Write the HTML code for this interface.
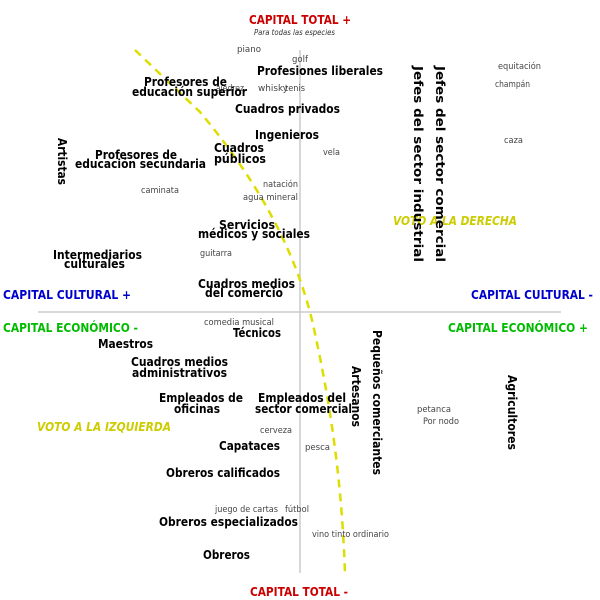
<!DOCTYPE html>
<html><head><meta charset="utf-8"><style>
html,body{margin:0;padding:0;background:#fff;}
svg{display:block;}
text{font-family:"DejaVu Sans","Liberation Sans",sans-serif;}
.b{font-weight:bold;font-size:12px;fill:#000;}
.s{font-size:8.5px;fill:#444;}
.r{font-weight:bold;font-size:12px;fill:#cc0000;}
.bl{font-weight:bold;font-size:12px;fill:#0000cc;}
.g{font-weight:bold;font-size:12px;fill:#00bb00;}
.y{font-weight:bold;font-style:italic;font-size:12px;fill:#cccc00;}
</style></head><body>
<svg width="600" height="600" viewBox="0 0 600 600" xmlns="http://www.w3.org/2000/svg">
<line x1="300" y1="50" x2="300" y2="573" stroke="#ccc" stroke-width="1.5"/>
<line x1="38" y1="312" x2="561" y2="312" stroke="#ccc" stroke-width="1.5"/>
<path d="M135,50 L200,112 C240,160 290,230 312,320 C330,400 342,480 345,575" fill="none" stroke="#dddd00" stroke-width="2.5" stroke-dasharray="8,6"/>

<text class="r" x="249" y="24" textLength="102" lengthAdjust="spacingAndGlyphs">CAPITAL TOTAL +</text>
<text x="254" y="35" font-size="8" font-style="italic" fill="#333" textLength="81" lengthAdjust="spacingAndGlyphs">Para todas las especies</text>
<text class="r" x="250" y="596" textLength="98" lengthAdjust="spacingAndGlyphs">CAPITAL TOTAL -</text>
<text class="bl" x="3" y="299" textLength="128" lengthAdjust="spacingAndGlyphs">CAPITAL CULTURAL +</text>
<text class="bl" x="471" y="299" textLength="122" lengthAdjust="spacingAndGlyphs">CAPITAL CULTURAL -</text>
<text class="g" x="3" y="332" textLength="135" lengthAdjust="spacingAndGlyphs">CAPITAL ECONÓMICO -</text>
<text class="g" x="448" y="332" textLength="140" lengthAdjust="spacingAndGlyphs">CAPITAL ECONÓMICO +</text>
<text class="y" x="393" y="225" textLength="124" lengthAdjust="spacingAndGlyphs">VOTO A LA DERECHA</text>
<text class="y" x="37" y="431" textLength="134" lengthAdjust="spacingAndGlyphs">VOTO A LA IZQUIERDA</text>

<g class="s">
<text class="s" x="237" y="52" textLength="24" lengthAdjust="spacingAndGlyphs">piano</text>
<text class="s" x="292" y="62" textLength="16" lengthAdjust="spacingAndGlyphs">golf</text>
<text class="s" x="498" y="69" textLength="43" lengthAdjust="spacingAndGlyphs">equitación</text>
<text class="s" x="216" y="91" textLength="28" lengthAdjust="spacingAndGlyphs">ajedrez</text>
<text class="s" x="258" y="91" textLength="30" lengthAdjust="spacingAndGlyphs">whisky</text>
<text class="s" x="285" y="91" textLength="20" lengthAdjust="spacingAndGlyphs">tenis</text>
<text class="s" x="495" y="87" textLength="35" lengthAdjust="spacingAndGlyphs">champán</text>
<text class="s" x="323" y="155" textLength="17" lengthAdjust="spacingAndGlyphs">vela</text>
<text class="s" x="504" y="143" textLength="19" lengthAdjust="spacingAndGlyphs">caza</text>
<text class="s" x="141" y="193" textLength="38" lengthAdjust="spacingAndGlyphs">caminata</text>
<text class="s" x="263" y="187" textLength="35" lengthAdjust="spacingAndGlyphs">natación</text>
<text class="s" x="243" y="200" textLength="55" lengthAdjust="spacingAndGlyphs">agua mineral</text>
<text class="s" x="200" y="256" textLength="32" lengthAdjust="spacingAndGlyphs">guitarra</text>
<text class="s" x="204" y="325" textLength="70" lengthAdjust="spacingAndGlyphs">comedia musical</text>
<text class="s" x="417" y="412" textLength="34" lengthAdjust="spacingAndGlyphs">petanca</text>
<text class="s" x="423" y="424" textLength="36" lengthAdjust="spacingAndGlyphs">Por nodo</text>
<text class="s" x="260" y="433" textLength="32" lengthAdjust="spacingAndGlyphs">cerveza</text>
<text class="s" x="305" y="450" textLength="25" lengthAdjust="spacingAndGlyphs">pesca</text>
<text class="s" x="215" y="512" textLength="63" lengthAdjust="spacingAndGlyphs">juego de cartas</text>
<text class="s" x="285" y="512" textLength="24" lengthAdjust="spacingAndGlyphs">fútbol</text>
<text class="s" x="312" y="537" textLength="77" lengthAdjust="spacingAndGlyphs">vino tinto ordinario</text>
</g>

<text class="b" x="257" y="75" textLength="126" lengthAdjust="spacingAndGlyphs">Profesiones liberales</text>
<text class="b" x="144" y="86" textLength="83" lengthAdjust="spacingAndGlyphs">Profesores de</text>
<text class="b" x="132" y="96" textLength="115" lengthAdjust="spacingAndGlyphs">educación superior</text>
<text class="b" x="235" y="113" textLength="105" lengthAdjust="spacingAndGlyphs">Cuadros privados</text>
<text class="b" x="255" y="139" textLength="64" lengthAdjust="spacingAndGlyphs">Ingenieros</text>
<text class="b" x="214" y="152" textLength="50" lengthAdjust="spacingAndGlyphs">Cuadros</text>
<text class="b" x="214" y="163" textLength="52" lengthAdjust="spacingAndGlyphs">públicos</text>
<text class="b" x="95" y="159" textLength="82" lengthAdjust="spacingAndGlyphs">Profesores de</text>
<text class="b" x="75" y="168" textLength="131" lengthAdjust="spacingAndGlyphs">educación secundaria</text>
<text class="b" x="219" y="229" textLength="56" lengthAdjust="spacingAndGlyphs">Servicios</text>
<text class="b" x="198" y="238" textLength="112" lengthAdjust="spacingAndGlyphs">médicos y sociales</text>
<text class="b" x="53" y="259" textLength="89" lengthAdjust="spacingAndGlyphs">Intermediarios</text>
<text class="b" x="64" y="268" textLength="61" lengthAdjust="spacingAndGlyphs">culturales</text>
<text class="b" x="198" y="288" textLength="97" lengthAdjust="spacingAndGlyphs">Cuadros medios</text>
<text class="b" x="205" y="297" textLength="78" lengthAdjust="spacingAndGlyphs">del comercio</text>
<text class="b" x="233" y="337" textLength="48" lengthAdjust="spacingAndGlyphs">Técnicos</text>
<text class="b" x="98" y="348" textLength="55" lengthAdjust="spacingAndGlyphs">Maestros</text>
<text class="b" x="131" y="366" textLength="97" lengthAdjust="spacingAndGlyphs">Cuadros medios</text>
<text class="b" x="132" y="377" textLength="95" lengthAdjust="spacingAndGlyphs">administrativos</text>
<text class="b" x="159" y="402" textLength="84" lengthAdjust="spacingAndGlyphs">Empleados de</text>
<text class="b" x="174" y="413" textLength="46" lengthAdjust="spacingAndGlyphs">oficinas</text>
<text class="b" x="258" y="402" textLength="88" lengthAdjust="spacingAndGlyphs">Empleados del</text>
<text class="b" x="255" y="413" textLength="97" lengthAdjust="spacingAndGlyphs">sector comercial</text>
<text class="b" x="219" y="450" textLength="61" lengthAdjust="spacingAndGlyphs">Capataces</text>
<text class="b" x="166" y="477" textLength="114" lengthAdjust="spacingAndGlyphs">Obreros calificados</text>
<text class="b" x="159" y="526" textLength="139" lengthAdjust="spacingAndGlyphs">Obreros especializados</text>
<text class="b" x="203" y="559" textLength="47" lengthAdjust="spacingAndGlyphs">Obreros</text>

<text class="b" transform="translate(58,138) rotate(90)" textLength="47" lengthAdjust="spacingAndGlyphs">Artistas</text>
<text class="b" transform="translate(414,66) rotate(90)" textLength="196" lengthAdjust="spacingAndGlyphs">Jefes del sector industrial</text>
<text class="b" transform="translate(436,66) rotate(90)" textLength="196" lengthAdjust="spacingAndGlyphs">Jefes del sector comercial</text>
<text class="b" transform="translate(373,330) rotate(90)" textLength="145" lengthAdjust="spacingAndGlyphs">Pequeños comerciantes</text>
<text class="b" transform="translate(352,366) rotate(90)" textLength="61" lengthAdjust="spacingAndGlyphs">Artesanos</text>
<text class="b" transform="translate(508,375) rotate(90)" textLength="75" lengthAdjust="spacingAndGlyphs">Agricultores</text>
</svg>
</body></html>
